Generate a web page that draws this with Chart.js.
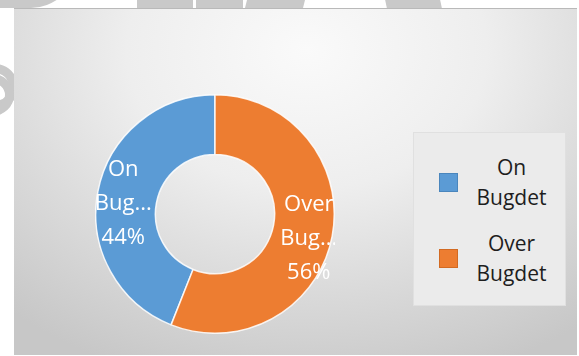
<!DOCTYPE html>
<html lang="en">

<head>
  <meta charset="UTF-8">
  <title>Budget doughnut</title>
  <script src="https://cdn.jsdelivr.net/npm/chart.js"></script>
  <style>
    html, body {
      margin: 0;
      padding: 0;
      width: 579px;
      height: 356px;
      background: #fff;
      overflow: hidden;
      font-family: "Open Sans", sans-serif;
    }
    .mark {
      position: absolute;
      background: #c9c9c9;
    }
    .frame {
      position: absolute;
      left: 14px;
      top: 8px;
      width: 563px;
      height: 347px;
      border-top: 1px solid #b9b9b9;
      box-sizing: border-box;
      background: radial-gradient(ellipse 80% 100% at 52% 12%, #fafafa 0%, #eeeeee 40%, #dadada 70%, #c7c7c7 100%);
    }
    .chart-box {
      position: absolute;
      left: 95px;
      top: 94px;
      width: 240px;
      height: 240px;
    }
    .legend {
      position: absolute;
      left: 413px;
      top: 132px;
      width: 153px;
      height: 174px;
      box-sizing: border-box;
      background: #ebebeb;
      border: 1px solid #e0e0e0;
    }
    .legend .swatch {
      position: absolute;
      left: 25px;
      width: 19px;
      height: 19px;
      box-sizing: border-box;
    }
    .legend .text {
      position: absolute;
      left: 50px;
      width: 95px;
      text-align: center;
      font-size: 21px;
      line-height: 30px;
      color: #1e1e1e;
    }
  </style>
</head>

<body>
  <!-- watermark bits peeking out behind the frame -->
  <div class="mark" style="left:-10px; top:-40px; width:86px; height:48px; border-radius:0 0 40px 0; transform:skewX(-12deg);"></div>
  <div class="mark" style="left:137px; top:0; width:56px; height:8px;"></div>
  <div class="mark" style="left:196px; top:0; width:47px; height:8px;"></div>
  <div class="mark" style="left:246px; top:0; width:58px; height:8px; transform:skewX(-14deg);"></div>
  <div class="mark" style="left:386px; top:0; width:55px; height:8px; transform:skewX(12deg);"></div>
  <div style="position:absolute; left:-28px; top:64px; width:28px; height:28px; border:9px solid #c9c9c9; border-radius:50%; clip-path: inset(0 0 0 22px);"></div>
  <div style="position:absolute; left:-30px; top:74px; width:26px; height:24px; border:9px solid #c9c9c9; border-radius:50%;"></div>

  <div class="frame"></div>
  <div class="chart-box"><canvas id="donut"></canvas></div>
  <div class="legend" id="legend"></div>

  <script>
    const categories = ['On Bugdet', 'Over Bugdet'];
    const sliceNames = [['On', 'Bug...'], ['Over', 'Bug...']];
    const values = [44, 56];
    const colors = ['#5b9bd5', '#ed7d31'];

    const total = values.reduce((a, b) => a + b, 0);

    // white labels in the middle of each ring slice
    const sliceLabels = {
      id: 'sliceLabels',
      afterDatasetsDraw(chart) {
        const ctx = chart.ctx;
        const meta = chart.getDatasetMeta(0);
        ctx.save();
        ctx.font = '22px "Open Sans"';
        ctx.fillStyle = '#ffffff';
        ctx.textAlign = 'center';
        ctx.textBaseline = 'middle';
        meta.data.forEach((arc, i) => {
          const p = arc.getProps(['x', 'y', 'startAngle', 'endAngle', 'innerRadius', 'outerRadius']);
          const mid = (p.startAngle + p.endAngle) / 2;
          const r = (p.innerRadius + p.outerRadius) / 2 + 5;
          const cx = p.x + Math.cos(mid) * r + 1;
          const cy = p.y + Math.sin(mid) * r + 7;
          const pct = Math.round(values[i] / total * 100) + '%';
          const lines = sliceNames[i].concat([pct]);
          lines.forEach((line, k) => {
            ctx.fillText(line, cx, cy + (k - 1) * 34);
          });
        });
        ctx.restore();
      }
    };

    new Chart(document.getElementById('donut'), {
      type: 'doughnut',
      data: {
        labels: categories,
        datasets: [{
          data: values,
          backgroundColor: colors,
          borderColor: 'rgba(255,255,255,0.85)',
          borderWidth: 1.5
        }]
      },
      options: {
        responsive: true,
        maintainAspectRatio: false,
        animation: false,
        cutout: '50%',
        rotation: -values[0] / total * 360,
        layout: { padding: 0 },
        plugins: {
          legend: { display: false },
          tooltip: { enabled: false }
        }
      },
      plugins: [sliceLabels]
    });

    // legend built from the same arrays
    const legend = document.getElementById('legend');
    categories.forEach((name, i) => {
      const top = 50 + i * 76;
      const sw = document.createElement('div');
      sw.className = 'swatch';
      sw.style.top = (top - 10) + 'px';
      sw.style.background = colors[i];
      sw.style.border = '1px solid ' + (i === 0 ? '#4a86bd' : '#d26a22');
      legend.appendChild(sw);
      const tx = document.createElement('div');
      tx.className = 'text';
      tx.style.top = (top - 31) + 'px';
      tx.innerHTML = name.split(' ').join('<br>');
      legend.appendChild(tx);
    });
  </script>
</body>

</html>
